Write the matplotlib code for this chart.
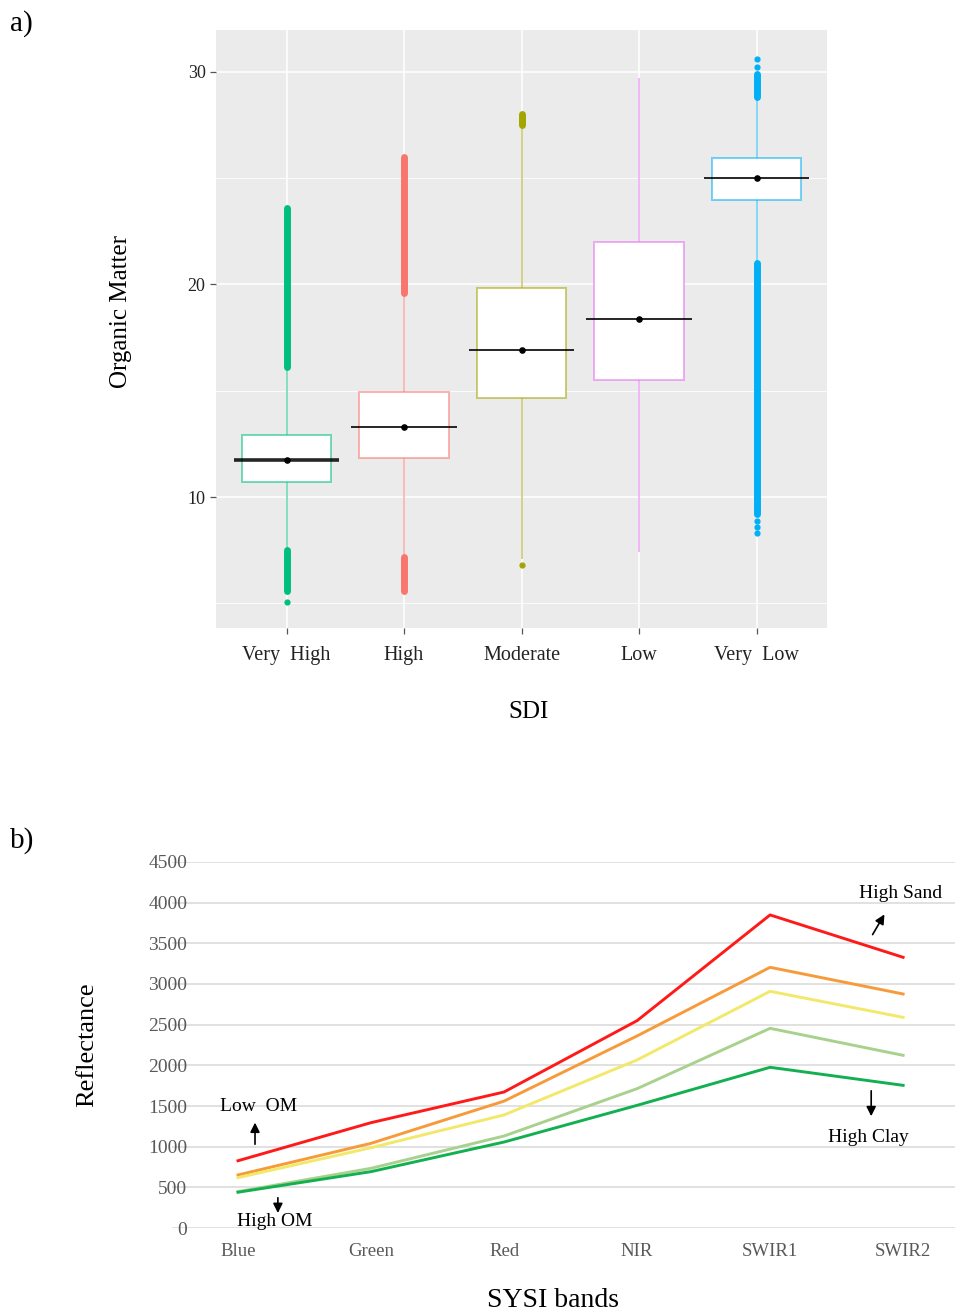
import numpy as np
import matplotlib
matplotlib.use("Agg")
import matplotlib.pyplot as plt

plt.rcParams["font.family"] = ["Liberation Serif", "DejaVu Serif"]

# ---- a) SDI vs organic matter boxplots ----
sdi_classes = ["Very  High", "High", "Moderate", "Low", "Very  Low"]
sdi_colors = ["#00BF7D", "#F8766D", "#A3A500", "#E76BF3", "#00B0F6"]
om_q1 = [10.7, 11.85, 14.65, 15.5, 23.95]
om_median = [11.75, 13.3, 16.9, 18.35, 25.0]
om_q3 = [12.9, 14.95, 19.85, 22.0, 25.95]
om_whisk_low = [7.5, 7.3, 7.1, 7.4, 21.0]
om_whisk_high = [16.1, 19.5, 27.5, 29.7, 28.7]
# dense outlier runs (lo, hi) above and below the whiskers
om_out_high = [(16.1, 23.6), (19.6, 26.0), (27.5, 28.0), None, (28.8, 29.9)]
om_out_low = [(5.6, 7.5), (5.6, 7.2), None, None, (9.2, 21.0)]
om_out_points = [[5.06], [], [6.8], [], [30.6, 30.2, 8.3, 8.6, 8.9]]

# ---- b) SYSI band reflectance ----
bands = ["Blue", "Green", "Red", "NIR", "SWIR1", "SWIR2"]
refl_high_sand = [827, 1295, 1672, 2549, 3849, 3328]
refl_orange = [652, 1041, 1560, 2361, 3205, 2877]
refl_yellow = [619, 987, 1390, 2066, 2910, 2590]
refl_light_green = [447, 734, 1131, 1713, 2455, 2123]
refl_high_clay = [440, 693, 1057, 1508, 1976, 1754]
refl_colors = ["#FF1A1A", "#F79A3A", "#F2E86A", "#A9D18E", "#12B050"]

fig = plt.figure(figsize=(9.55, 13.11), dpi=100)

# ---------------- panel a ----------------
ax = fig.add_axes([0.2262, 0.521, 0.6398, 0.4561])
ax.set_facecolor("#EBEBEB")
pos = np.arange(1, len(sdi_classes) + 1)
for p in pos:
    ax.axvline(p, color="white", lw=1.1, zorder=0)
for v in [5, 15, 25]:
    ax.axhline(v, color="white", lw=0.6, zorder=0)
for v in [10, 20, 30]:
    ax.axhline(v, color="white", lw=1.1, zorder=0)

box_w = 0.76
for i, p in enumerate(pos):
    c = sdi_colors[i]
    # whiskers
    ax.vlines(p, om_whisk_low[i], om_q1[i], color=c, alpha=0.55, lw=1.2, zorder=2)
    ax.vlines(p, om_q3[i], om_whisk_high[i], color=c, alpha=0.55, lw=1.2, zorder=2)
    # box
    rect = plt.Rectangle((p - box_w / 2, om_q1[i]), box_w, om_q3[i] - om_q1[i],
                         facecolor="white", lw=1.4, zorder=3)
    rect.set_edgecolor(matplotlib.colors.to_rgba(c, 0.55))
    ax.add_patch(rect)
    # outliers
    for rng in (om_out_high[i], om_out_low[i]):
        if rng is not None:
            ax.plot([p, p], rng, color=c, lw=5, solid_capstyle="round", zorder=4)
    if om_out_points[i]:
        ax.scatter([p] * len(om_out_points[i]), om_out_points[i], s=12, color=c, zorder=4)
    # median bar and centre dot
    ax.hlines(om_median[i], p - 0.45, p + 0.45, color="black",
              lw=2.6 if i == 0 else 1.4, alpha=0.85, zorder=5)
    ax.scatter([p], [om_median[i]], s=14, color="black", zorder=6)

ax.set_xlim(0.4, 5.6)
ax.set_ylim(3.85, 31.95)
ax.set_xticks(pos)
ax.set_xticklabels(sdi_classes, fontsize=14.5, color="#222222")
ax.set_yticks([10, 20, 30])
ax.set_yticklabels(["10", "20", "30"], fontsize=13, color="#222222")
ax.tick_params(axis="both", length=4, color="#555555", width=0.9)
ax.tick_params(axis="x", pad=9)
for s in ax.spines.values():
    s.set_visible(False)
ax.set_xlabel("SDI", fontsize=18)
ax.xaxis.set_label_coords(0.511, -0.122)
ax.set_ylabel("Organic Matter", fontsize=18)
ax.yaxis.set_label_coords(-0.137, 0.53)
fig.text(0.010, 0.982, "a)", fontsize=21, va="center")

# ---------------- panel b ----------------
bx = fig.add_axes([0.1801, 0.0633, 0.8199, 0.2792])
xb = np.arange(len(bands))
bx.set_xlim(-0.496, 5.39)
bx.set_ylim(0, 4500)
bx.set_yticks(np.arange(0, 4501, 500))
bx.set_yticklabels([str(v) for v in range(0, 4501, 500)], fontsize=14, color="#595959")
bx.set_xticks(xb)
bx.set_xticklabels(bands, fontsize=13.5, color="#595959")
bx.tick_params(axis="both", length=0)
bx.tick_params(axis="y", pad=-11)
bx.tick_params(axis="x", pad=11)
bx.grid(axis="y", color="#D9D9D9", lw=1.1)
bx.set_axisbelow(True)
for s in bx.spines.values():
    s.set_visible(False)

series = [refl_high_sand, refl_orange, refl_yellow, refl_light_green, refl_high_clay]
for vals, c in zip(series, refl_colors):
    bx.plot(xb, vals, color=c, lw=2.1, clip_on=False, zorder=3)

bx.set_ylabel("Reflectance", fontsize=19)
bx.yaxis.set_label_coords(-0.0945, 0.5)
bx.set_xlabel("SYSI bands", fontsize=20)
bx.xaxis.set_label_coords(0.487, -0.164)

arrow = dict(arrowstyle="-|>", color="black", lw=1.2, mutation_scale=14)
bx.annotate("", xy=(0.128, 1330), xytext=(0.128, 996), arrowprops=arrow)
bx.text(0.158, 1488, "Low  OM", fontsize=14, ha="center", va="center")
bx.annotate("", xy=(0.30, 150), xytext=(0.30, 406), arrowprops=arrow)
bx.text(0.28, 74, "High OM", fontsize=14, ha="center", va="center")
bx.annotate("", xy=(4.87, 3885), xytext=(4.76, 3578), arrowprops=arrow)
bx.text(4.98, 4107, "High Sand", fontsize=14, ha="center", va="center")
bx.annotate("", xy=(4.76, 1340), xytext=(4.76, 1721), arrowprops=arrow)
bx.text(4.74, 1107, "High Clay", fontsize=14, ha="center", va="center")
fig.text(0.010, 0.359, "b)", fontsize=21, va="center")

fig.savefig("out.png", dpi=100)
